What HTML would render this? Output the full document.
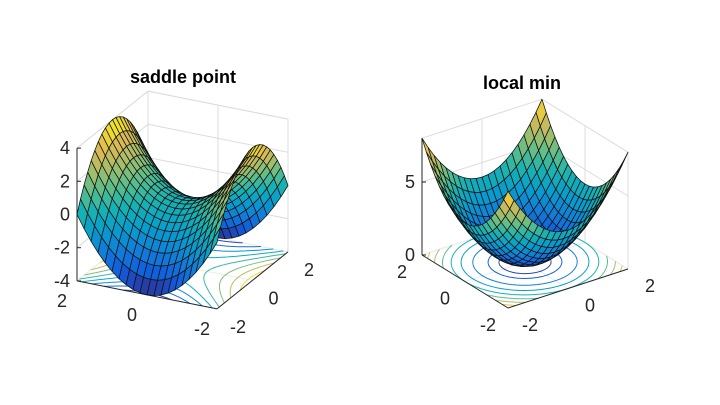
<!DOCTYPE html>
<html><head><meta charset="utf-8">
<style>
html,body{margin:0;padding:0;background:#fff;}
svg{display:block;font-family:"Liberation Sans",Arial,sans-serif;}
</style></head>
<body>
<svg id="fig" width="720" height="405" viewBox="0 0 720 405" xmlns="http://www.w3.org/2000/svg">
<rect width="720" height="405" fill="#fff"/>
<text x="183" y="83" text-anchor="middle" font-size="18" font-weight="bold" fill="#000">saddle point</text>
<text x="522" y="89" text-anchor="middle" font-size="18" font-weight="bold" fill="#000">local min</text>
<g id="p1"></g>
<g id="p2"></g>
</svg>
<script>
// ---- data ----
const gridVals = [-2,-1.8,-1.6,-1.4,-1.2,-1,-0.8,-0.6,-0.4,-0.2,0,0.2,0.4,0.6,0.8,1,1.2,1.4,1.6,1.8,2];
const uTicks = [-2,0,2];
const vTicks = [-2,0,2];
const saddleZTicks = [-4,-2,0,2,4];
const bowlZTicks = [0,5];
const saddleLevels = [-3.5,-2.5,-1.5,-0.5,0.5,1.5,2.5,3.5];
const bowlLevels = [0.5,1,2,3,4,5,6,7];

const parula=[[53,42,135],[15,92,221],[18,125,216],[7,156,207],[21,177,180],[89,189,140],[165,190,107],[225,185,82],[249,251,14]];
function cmap(t){t=Math.max(0,Math.min(1,t));const s=t*(parula.length-1);const i=Math.min(parula.length-2,Math.floor(s));const f=s-i;
 const c=parula[i].map((a,k)=>Math.round(a+(parula[i+1][k]-a)*f));return `rgb(${c[0]},${c[1]},${c[2]})`;}
const NS="http://www.w3.org/2000/svg";
function mk(parent,tag,attrs){const e=document.createElementNS(NS,tag);for(const k in attrs)e.setAttribute(k,attrs[k]);parent.appendChild(e);return e;}

function drawPlot(g,cfg){
 const {ox,oy,eu,ev,ez,zmin,zmax,f,levels,zTicks,uOff,vOff}=cfg;
 const P=(u,v,z)=>[ox+u*eu[0]+v*ev[0]+z*ez[0], oy+u*eu[1]+v*ev[1]+z*ez[1]];
 const r1=[eu[0],ev[0],ez[0]],r2=[eu[1],ev[1],ez[1]];
 let n=[r1[1]*r2[2]-r1[2]*r2[1],r1[2]*r2[0]-r1[0]*r2[2],r1[0]*r2[1]-r1[1]*r2[0]];
 const D=(u,v,z)=>n[0]*u+n[1]*v+n[2]*z;
 if(D(-2,-2,zmin)<D(2,2,zmin)) n=n.map(a=>-a);
 const pt=p=>p[0].toFixed(1)+","+p[1].toFixed(1);
 const ln=(a,b,col,w,name)=>{const e=mk(g,"line",{x1:a[0],y1:a[1],x2:b[0],y2:b[1],stroke:col,"stroke-width":w});
  
  };
 const gc="#dcdcdc";
 zTicks.forEach(z=>{ln(P(2,-2,z),P(2,2,z),gc,1,'grid-line');ln(P(-2,2,z),P(2,2,z),gc,1,'grid-line');});
 ln(P(2,-2,zmax),P(2,2,zmax),gc,1,'box-edge');ln(P(-2,2,zmax),P(2,2,zmax),gc,1,'box-edge');
 ln(P(2,2,zmin),P(2,2,zmax),gc,1,'box-edge');ln(P(-2,2,zmin),P(-2,2,zmax),gc,1,'box-edge');
 vTicks.forEach(v=>{ln(P(2,v,zmin),P(2,v,zmax),gc,1,'grid-line');ln(P(2,v,zmin),P(-2,v,zmin),"#ececec",1,'floor-grid-line');});
 uTicks.forEach(u=>{ln(P(u,2,zmin),P(u,2,zmax),gc,1,'grid-line');ln(P(u,2,zmin),P(u,-2,zmin),"#ececec",1,'floor-grid-line');});
 const N=80,h=4/N;
 levels.forEach(L=>{
  let d="";
  for(let i=0;i<N;i++)for(let j=0;j<N;j++){
   const u0=-2+i*h,v0=-2+j*h;
   const c=[[u0,v0],[u0+h,v0],[u0+h,v0+h],[u0,v0+h]];
   const zs=c.map(p=>f(p[0],p[1]));
   const pts=[];
   for(let k=0;k<4;k++){const a=zs[k],b=zs[(k+1)%4];
    if((a<L)!==(b<L)){const t=(L-a)/(b-a);const A=c[k],B=c[(k+1)%4];pts.push([A[0]+(B[0]-A[0])*t,A[1]+(B[1]-A[1])*t]);}}
   for(let k=0;k+1<pts.length;k+=2){d+="M"+pt(P(pts[k][0],pts[k][1],zmin))+"L"+pt(P(pts[k+1][0],pts[k+1][1],zmin));}
  }
  const e=mk(g,"path",{d:d,fill:"none",stroke:cmap((L-zmin)/(zmax-zmin)),"stroke-width":1});
  
  
 });
 const ac="#262626";
 ln(P(2,-2,zmin),P(2,-2,zmax),ac,1,'z-axis-line');
 ln(P(-2,-2,zmin),P(2,-2,zmin),ac,1,'x-axis-line');
 ln(P(-2,-2,zmin),P(-2,2,zmin),ac,1,'y-axis-line');
 zTicks.forEach(z=>{const p=P(2,-2,z);ln(p,[p[0]+4,p[1]],ac,1,'z-tick');
  const t=mk(g,"text",{x:p[0]-7,y:p[1]+6,"text-anchor":"end","font-size":18,fill:ac});t.textContent=String(z);
  });
 uTicks.forEach(u=>{const p=P(u,-2,zmin);
  const t=mk(g,"text",{x:p[0]+uOff[0],y:p[1]+uOff[1],"text-anchor":"middle","font-size":18,fill:ac});t.textContent=String(u);
  });
 vTicks.forEach(v=>{const p=P(-2,v,zmin);
  const t=mk(g,"text",{x:p[0]+vOff[0],y:p[1]+vOff[1],"text-anchor":"middle","font-size":18,fill:ac});t.textContent=String(v);
  });
 const quads=[];
 for(let i=0;i<gridVals.length-1;i++)for(let j=0;j<gridVals.length-1;j++){
  const us=[gridVals[i],gridVals[i+1],gridVals[i+1],gridVals[i]];
  const vs=[gridVals[j],gridVals[j],gridVals[j+1],gridVals[j+1]];
  const zs=us.map((u,k)=>f(u,vs[k]));
  const zc=(zs[0]+zs[1]+zs[2]+zs[3])/4;
  const dep=D((us[0]+us[1])/2,(vs[0]+vs[2])/2,zc);
  quads.push({us,vs,zs,zc,dep});
 }
 quads.sort((a,b)=>a.dep-b.dep);
 quads.forEach(q=>{
  const d="M"+q.us.map((u,k)=>pt(P(u,q.vs[k],q.zs[k]))).join("L")+"Z";
  const e=mk(g,"path",{d:d,fill:cmap((q.zc-zmin)/(zmax-zmin)),stroke:"#111","stroke-width":0.75,"stroke-linejoin":"round"});
  
  
 });
}
drawPlot(document.getElementById("p1"),{ox:182.5,oy:200,eu:[-35,-7],ev:[17.75,-14.25],ez:[0,-16.6],zmin:-4,zmax:4,
 f:(u,v)=>u*u-v*v,levels:saddleLevels,zTicks:saddleZTicks,uOff:[-15,26],vOff:[21,24]});
drawPlot(document.getElementById("p2"),{ox:525,oy:262,eu:[-21.5,-13.25],ev:[30,-9.75],ez:[0,-14.6],zmin:0,zmax:8,
 f:(u,v)=>u*u+v*v,levels:bowlLevels,zTicks:bowlZTicks,uOff:[-20,23],vOff:[22,23]});
</script>
</body></html>
